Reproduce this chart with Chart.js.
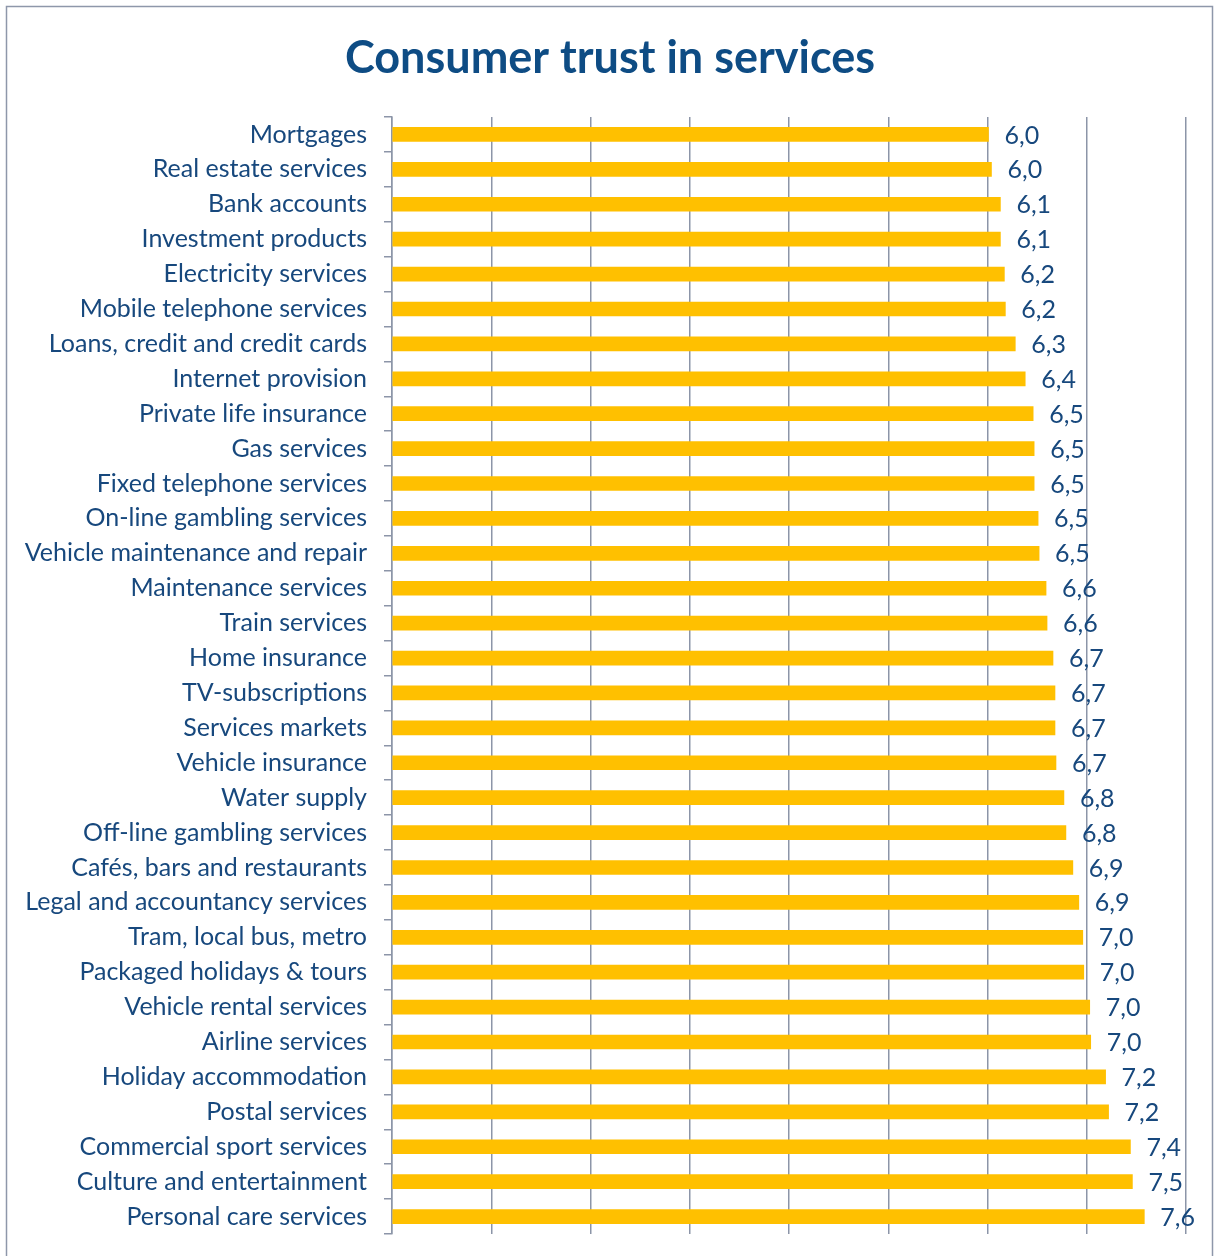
<!DOCTYPE html>
<html>
<head>
<meta charset="utf-8">
<script src="https://cdn.jsdelivr.net/npm/chart.js@4.4.1/dist/chart.umd.min.js"></script>
<style>
  html, body { margin: 0; padding: 0; background: #ffffff; }
  #wrap { width: 1214px; height: 1256px; }
</style>
</head>
<body>
<div id="wrap"><canvas id="c" width="1214" height="1256"></canvas></div>
<script>
const titleText = 'Consumer trust in services';

const categories = [
  'Mortgages',
  'Real estate services',
  'Bank accounts',
  'Investment products',
  'Electricity services',
  'Mobile telephone services',
  'Loans, credit and credit cards',
  'Internet provision',
  'Private life insurance',
  'Gas services',
  'Fixed telephone services',
  'On-line gambling services',
  'Vehicle maintenance and repair',
  'Maintenance services',
  'Train services',
  'Home insurance',
  'TV-subscriptions',
  'Services markets',
  'Vehicle insurance',
  'Water supply',
  'Off-line gambling services',
  'Cafés, bars and restaurants',
  'Legal and accountancy services',
  'Tram, local bus, metro',
  'Packaged holidays & tours',
  'Vehicle rental services',
  'Airline services',
  'Holiday accommodation',
  'Postal services',
  'Commercial sport services',
  'Culture and entertainment',
  'Personal care services'
];

const trustScores = [
  6.01, 6.04, 6.13, 6.13, 6.17, 6.18, 6.28, 6.38,
  6.46, 6.47, 6.47, 6.51, 6.52, 6.59, 6.60, 6.66,
  6.68, 6.68, 6.69, 6.77, 6.79, 6.86, 6.92, 6.96,
  6.97, 7.03, 7.04, 7.19, 7.22, 7.44, 7.46, 7.58
];

const axisMin = 0;
const axisMax = 8;
const axisStep = 1;

const textColor = '#17487D';
const titleColor = '#0E4C84';
const gridColor = '#8C95A8';
const fontFamily = 'Lato, "Open Sans", sans-serif';

const framePlugin = {
  id: 'frame',
  beforeDraw(chart) {
    const ctx = chart.ctx;
    ctx.save();
    ctx.fillStyle = '#ffffff';
    ctx.fillRect(0, 0, chart.width, chart.height);
    ctx.strokeStyle = '#8E97AA';
    ctx.lineWidth = 1.5;
    ctx.strokeRect(6.5, 6.5, 1206, 1300);
    ctx.fillStyle = titleColor;
    ctx.font = 'bold 45px ' + fontFamily;
    ctx.textAlign = 'center';
    ctx.textBaseline = 'alphabetic';
    ctx.fillText(titleText, 610, 73);
    ctx.restore();
  }
};

const valueLabelPlugin = {
  id: 'valueLabels',
  afterDatasetsDraw(chart) {
    const ctx = chart.ctx;
    const meta = chart.getDatasetMeta(0);
    const data = chart.data.datasets[0].data;
    ctx.save();
    ctx.fillStyle = textColor;
    ctx.font = '25px ' + fontFamily;
    ctx.textAlign = 'left';
    ctx.textBaseline = 'middle';
    meta.data.forEach((bar, i) => {
      const txt = Number(data[i]).toFixed(1).replace('.', ',');
      ctx.fillText(txt, bar.x + 16, bar.y + 1);
    });
    ctx.restore();
  }
};

new Chart(document.getElementById('c'), {
  type: 'bar',
  data: {
    labels: categories,
    datasets: [{
      data: trustScores,
      backgroundColor: '#FFC000',
      borderWidth: 0,
      barThickness: 14
    }]
  },
  options: {
    indexAxis: 'y',
    responsive: false,
    animation: false,
    layout: { padding: { top: 117, right: 28, bottom: 22, left: 0 } },
    plugins: {
      legend: { display: false },
      tooltip: { enabled: false },
      title: { display: false }
    },
    scales: {
      x: {
        min: axisMin,
        max: axisMax,
        ticks: { display: false, stepSize: axisStep },
        grid: { color: gridColor, lineWidth: 1.5, drawTicks: false },
        border: { display: false },
        afterFit(scale) {
          scale.height = 0;
          scale.paddingLeft = 0;
          scale.paddingRight = 0;
        }
      },
      y: {
        grid: {
          offset: true,
          drawOnChartArea: false,
          color: gridColor,
          lineWidth: 1.5,
          tickLength: 8
        },
        border: { color: gridColor, width: 1.5 },
        ticks: {
          color: textColor,
          font: { family: fontFamily, size: 25 },
          padding: 17,
          autoSkip: false
        },
        afterFit(scale) {
          scale.width = 392;
          scale.paddingTop = 0;
          scale.paddingBottom = 0;
        }
      }
    }
  },
  plugins: [framePlugin, valueLabelPlugin]
});
</script>
</body>
</html>
